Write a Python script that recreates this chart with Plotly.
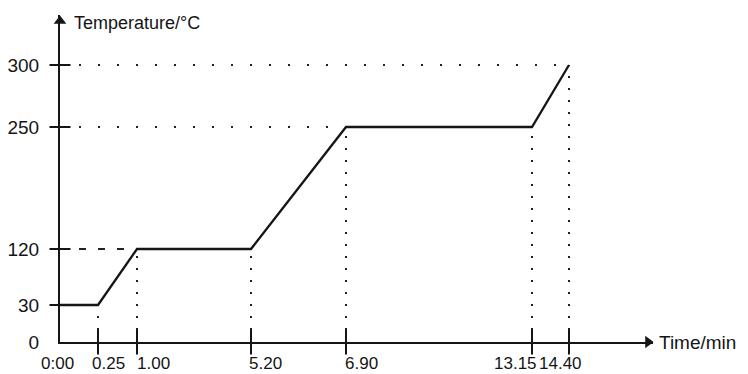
import numpy as np
import plotly.graph_objects as go

# ---- data ----
times = [0.00, 0.25, 1.00, 5.20, 6.90, 13.15, 14.40]
temps = [30, 30, 120, 120, 250, 250, 300]
time_tick_text = ["0:00", "0.25", "1.00", "5.20", "6.90", "13.15", "14.40"]
temp_ticks = [0, 30, 120, 250, 300]
temp_tick_text = ["0", "30", "120", "250", "300"]

# ---- schematic (non-proportional) axis scales of the drawing ----
TIME_KNOTS = [0.00, 0.25, 1.00, 5.20, 6.90, 13.15, 14.40]
TIME_AXIS = [0, 38, 77, 191, 286, 472, 509]
TEMP_KNOTS = [0, 30, 120, 250, 300]
TEMP_AXIS = [0, 37, 93, 215, 277]
# horizontal nudges of the hand-placed time labels (axis units)
TIME_LABEL_DX = [-3, 10, 16, 14, 15, -16, -9]


def sx(v):
    return list(np.interp(v, TIME_KNOTS, TIME_AXIS))


def sy(v):
    return list(np.interp(v, TEMP_KNOTS, TEMP_AXIS))


X_MAX, Y_MAX = 593, 327
PAGE_MARGIN = 8  # default body margin of the html page
FIG_W, FIG_H = 748 - PAGE_MARGIN, 374 - PAGE_MARGIN
FONT = "Liberation Sans, Arial, sans-serif"
INK = "#151515"

xs, ys = sx(times), sy(temps)

fig = go.Figure()

# vertical guide lines from the time axis up to each turning point
vx, vy = [], []
for x, y in zip(xs[1:], ys[1:]):
    vx += [x, x, None]
    vy += [0, y, None]
fig.add_trace(go.Scatter(x=vx, y=vy, mode="lines", hoverinfo="skip",
                         line=dict(color="#222", width=2, dash="2px,10px")))

# horizontal guide lines from temperature axis
hx, hy = [], []
seen = set()
for x, y, t in zip(xs, ys, temps):
    if t in (250, 300) and t not in seen:
        seen.add(t)
        hx += [0, x, None]
        hy += [y, y, None]
fig.add_trace(go.Scatter(x=hx, y=hy, mode="lines", hoverinfo="skip",
                         line=dict(color="#222", width=2, dash="2px,17px")))
i120 = temps.index(120)
fig.add_trace(go.Scatter(x=[0, xs[i120]], y=[ys[i120], ys[i120]], mode="lines",
                         hoverinfo="skip",
                         line=dict(color="#222", width=1.8, dash="7px,12px")))

# main temperature profile
fig.add_trace(go.Scatter(x=xs, y=ys, mode="lines", hoverinfo="skip",
                         line=dict(color=INK, width=2.3)))

# crossing tick marks
fig.add_trace(go.Scatter(x=xs[1:], y=[0] * (len(xs) - 1), mode="markers",
                         hoverinfo="skip", cliponaxis=False,
                         marker=dict(symbol="line-ns", size=18,
                                     line=dict(width=2, color=INK))))
fig.add_trace(go.Scatter(x=[0] * (len(temp_ticks) - 1), y=sy(temp_ticks[1:]),
                         mode="markers", hoverinfo="skip", cliponaxis=False,
                         marker=dict(symbol="line-ew", size=15,
                                     line=dict(width=2, color=INK))))

# axis arrowheads
fig.add_trace(go.Scatter(x=[0], y=[Y_MAX - 6], mode="markers", hoverinfo="skip",
                         cliponaxis=False,
                         marker=dict(symbol="triangle-up", size=11, color=INK)))
fig.add_trace(go.Scatter(x=[X_MAX - 5], y=[0], mode="markers", hoverinfo="skip",
                         cliponaxis=False,
                         marker=dict(symbol="triangle-right", size=11, color=INK)))

# time labels (hand placed in the original drawing) – paper coords so that
# labels outside the plotting range are still drawn
for x, dx, txt in zip(xs, TIME_LABEL_DX, time_tick_text):
    fig.add_annotation(x=(x + dx) / X_MAX, y=-21 / Y_MAX, xref="paper", yref="paper",
                       text=txt, showarrow=False, xanchor="center", yanchor="middle",
                       font=dict(family=FONT, size=17, color=INK))

fig.add_annotation(x=12 / X_MAX, y=319 / Y_MAX, xref="paper", yref="paper",
                   text="Temperature/°C",
                   showarrow=False, xanchor="left", yanchor="middle",
                   font=dict(family=FONT, size=18, color=INK))
fig.add_annotation(x=(X_MAX + 4) / X_MAX, y=0, xref="paper", yref="paper",
                   text="Time/min",
                   showarrow=False, xanchor="left", yanchor="middle",
                   font=dict(family=FONT, size=19, color=INK))

L, T = 60 - PAGE_MARGIN, 15 - PAGE_MARGIN
fig.update_layout(
    width=FIG_W, height=FIG_H,
    margin=dict(l=L, r=FIG_W - L - X_MAX, t=T, b=FIG_H - T - Y_MAX, pad=0),
    paper_bgcolor="white", plot_bgcolor="white",
    showlegend=False,
    font=dict(family=FONT, size=19, color=INK),
    xaxis=dict(range=[0, X_MAX], showgrid=False, zeroline=False,
               showline=True, linecolor=INK, linewidth=2,
               showticklabels=False, ticks="", automargin=False,
               fixedrange=True),
    yaxis=dict(range=[0, Y_MAX], showgrid=False, zeroline=False,
               showline=True, linecolor=INK, linewidth=2,
               tickmode="array", tickvals=sy(temp_ticks), ticktext=temp_tick_text,
               automargin=False,
               ticks="", ticklabelstandoff=15, fixedrange=True),
)

fig.write_html("out.html")
